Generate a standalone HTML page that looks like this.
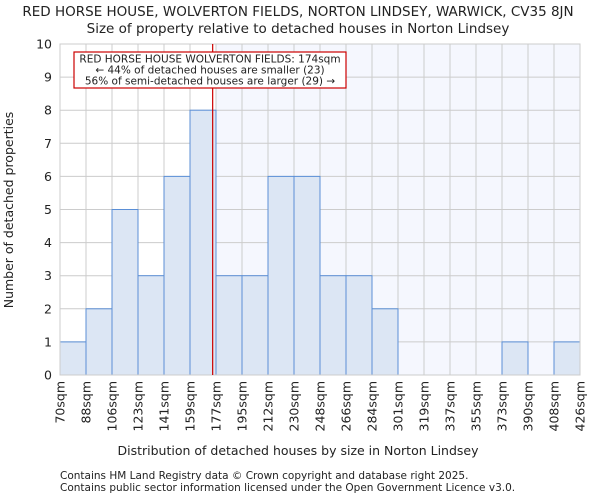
<!DOCTYPE html>
<html><head><meta charset="utf-8"><style>
body{margin:0;background:#fff;font-family:"DejaVu Sans","Liberation Sans",sans-serif}
svg text{font-family:"DejaVu Sans","Liberation Sans",sans-serif;fill:#222}
</style></head><body>
<svg id="c" width="600" height="500">
<text x="298" y="16" font-size="13.5" text-anchor="middle">RED HORSE HOUSE, WOLVERTON FIELDS, NORTON LINDSEY, WARWICK, CV35 8JN</text>
<text x="298" y="33" font-size="13.5" text-anchor="middle">Size of property relative to detached houses in Norton Lindsey</text>
<g id="plot"></g>
<text x="298" y="455" font-size="12.5" text-anchor="middle">Distribution of detached houses by size in Norton Lindsey</text>
<text transform="translate(13,210) rotate(-90)" font-size="12.5" text-anchor="middle">Number of detached properties</text>
<text x="60" y="479" font-size="10.5">Contains HM Land Registry data © Crown copyright and database right 2025.</text>
<text x="60" y="491" font-size="10.5">Contains public sector information licensed under the Open Government Licence v3.0.</text>
</svg>
<script>
const labels=["70sqm","88sqm","106sqm","123sqm","141sqm","159sqm","177sqm","195sqm","212sqm","230sqm","248sqm","266sqm","284sqm","301sqm","319sqm","337sqm","355sqm","373sqm","390sqm","408sqm","426sqm"];
const counts=[1,2,5,3,6,8,3,3,6,6,3,3,2,0,0,0,0,1,0,1];
const yTicks=[0,1,2,3,4,5,6,7,8,9,10];
const propertySize=174;
const NS="http://www.w3.org/2000/svg";
const g=document.getElementById("plot");
const X0=60,X1=580,Y0=375,Y1=44,yMax=10;
const bw=(X1-X0)/counts.length;
const xs=i=>X0+i*bw;
const ys=v=>Y0-(Y0-Y1)*v/yMax;
function mk(t,a){const e=document.createElementNS(NS,t);for(const k in a)e.setAttribute(k,a[k]);g.appendChild(e);return e;}
const edges=labels.map(l=>parseFloat(l));
function xSize(s){for(let i=0;i<edges.length-1;i++){if(s<=edges[i+1])return xs(i)+bw*(s-edges[i])/(edges[i+1]-edges[i]);}return X1;}
const mx=xSize(propertySize)+1;
let bi=0;while(bi<edges.length-1&&edges[bi+1]<=propertySize)bi++;
const sh=mk("rect",{x:xs(bi+1),y:Y1,width:X1-xs(bi+1),height:Y0-Y1,fill:"#f5f7fe"});


yTicks.forEach(v=>{
 const l=mk("line",{x1:X0,x2:X1,y1:ys(v),y2:ys(v),stroke:"#cccccc","stroke-width":1});
 
 
 const t=mk("text",{x:X0-8,y:ys(v)+4.5,"font-size":"12.5","text-anchor":"end"});t.textContent=v;
 
 
});
labels.forEach((lb,i)=>{
 const x=xs(i);
 const l=mk("line",{x1:x,x2:x,y1:Y1,y2:Y0,stroke:"#cccccc","stroke-width":1});
 
 
 const t=mk("text",{transform:`translate(${x+4.5},${Y0+6}) rotate(-90)`,"font-size":"12.5","text-anchor":"end"});t.textContent=lb;
 
 
});
counts.forEach((c,i)=>{
 if(c<=0)return;
 const r=mk("rect",{x:xs(i),y:ys(c),width:bw,height:Y0-ys(c),fill:"#dce6f4",stroke:"#5b8fd6","stroke-width":1});
 
 
});
const ax=mk("rect",{x:X0,y:Y1,width:X1-X0,height:Y0-Y1,fill:"none",stroke:"#cccccc"});


const ml=mk("line",{x1:mx,x2:mx,y1:Y1,y2:Y0,stroke:"#cc0000","stroke-width":1.2});


const box=mk("rect",{x:74,y:52,width:272,height:36,fill:"#fff",stroke:"#cc0000","stroke-width":1.2});


["RED HORSE HOUSE WOLVERTON FIELDS: 174sqm","← 44% of detached houses are smaller (23)","56% of semi-detached houses are larger (29) →"].forEach((s,i)=>{
 const t=mk("text",{x:210,y:62.5+i*11,"font-size":"10.5","text-anchor":"middle"});t.textContent=s;
 
 
});
</script>
</body></html>
